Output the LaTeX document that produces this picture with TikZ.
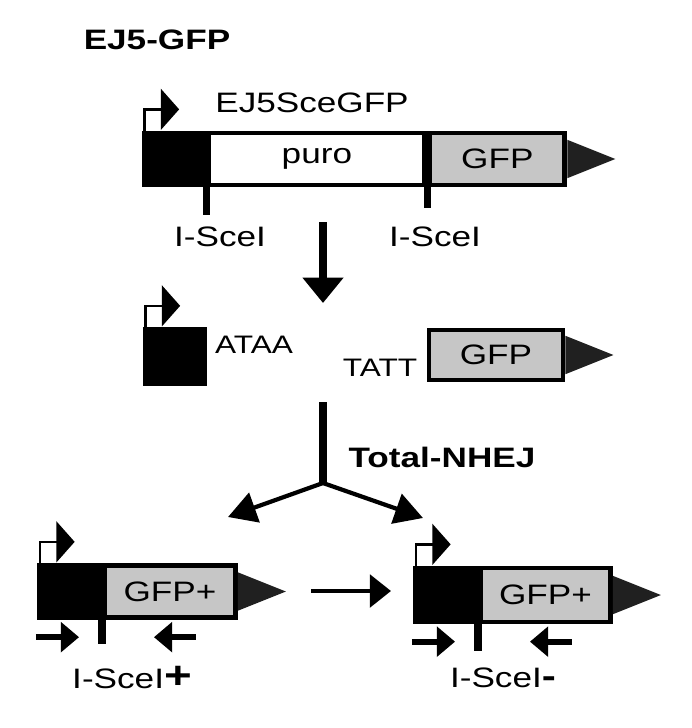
\documentclass[tikz,border=0pt]{standalone}
\usepackage{fontspec}
\setmainfont[FakeStretch=1.25]{Liberation Sans}
\usepackage{tikz}
\usepackage{xcolor}
\usetikzlibrary{arrows.meta, positioning, calc}
\definecolor{cGrey}{RGB}{198,198,198}
\definecolor{cDark}{RGB}{32,32,32}
\tikzset{
	exon/.style     ={rectangle, draw=black, fill=black, line width=3.5pt, inner sep=0pt, minimum width=1.5cm, minimum height=1.3cm},
	orf/.style      ={rectangle, draw=black, fill=cGrey, line width=3.5pt, inner sep=0pt, minimum height=1.3cm, align=center},
	tss/.style      ={line width=1.7pt, -{Triangle[length=13pt, width=29pt]}},
	cutsite/.style  ={line width=5.5pt},
	primer/.style   ={line width=4.3pt, -{Triangle[length=13pt, width=21pt]}},
	% process arrows
	bigarrow/.style ={line width=5.5pt, -{Triangle[length=18pt, width=28pt]}},
	stem/.style     ={line width=5pt},
	branch/.style   ={line width=3pt, -{Triangle[length=20pt, width=22pt]}},
	steparrow/.style={line width=3.2pt, -{Triangle[length=15pt, width=23pt]}},
}

\begin{document}
\begin{tikzpicture}[font=\fontsize{20}{24}\selectfont]
	\useasboundingbox (0,0) rectangle (17.3,-18.2);
	% reporter
	\node[font=\fontsize{20}{24}\selectfont\bfseries] (title) at (3.925,-1.0) {EJ5-GFP};
	\node (rep) at (7.8,-2.575) {EJ5SceGFP};
	\node[exon] (blk1) at (4.35,-3.975) {};
	\node[orf, fill=white, minimum width=5.4cm, right=0pt of blk1] (puro) {puro};
	\node[orf, minimum width=3.375cm, right=0pt of puro] (gfp1) {GFP};
	\draw[cutsite] (puro.south west) -- ++(0,-0.7);
	\draw[cutsite] (puro.south east) -- ++(0,-0.525);
	\node (sceA) at (5.5,-5.925) {I-SceI};
	\node (sceB) at (10.875,-5.925) {I-SceI};
	\coordinate (cut) at (8.075,-5.55);
	\coordinate (broken) at (8.075,-7.575);
	\draw[bigarrow] (cut) -- (broken);
	% cut ends
	\node[exon, minimum height=1.35cm] (blk2) at (4.375,-8.9125) {};
	\node[font=\fontsize{18}{22}\selectfont] (ataa) at (6.35,-8.625) {ATAA};
	\node[font=\fontsize{18}{22}\selectfont] (tatt) at (9.5,-9.2) {TATT};
	\node[orf, minimum width=3.35cm, minimum height=1.25cm] (gfp2) at (12.4,-8.875) {GFP};
	% repair
	\coordinate (top) at (8.075,-10.05);
	\coordinate (fork) at (8.075,-12.075);
	\coordinate (leftend) at (5.7,-12.925);
	\coordinate (rightend) at (10.575,-12.95);
	\draw[stem] (top) -- (fork);
	\draw[branch] (fork) -- (leftend);
	\draw[branch] (fork) -- (rightend);
	\node[font=\fontsize{20}{24}\selectfont\bfseries] (nhej) at (11.05,-11.425) {Total-NHEJ};
	% products
	\node[exon] (blk3) at (1.7375,-14.7875) {};
	\node[orf, minimum width=3.275cm, right=0pt of blk3] (gfp3) {GFP+};
	\node[exon, minimum height=1.35cm] (blk4) at (11.1375,-14.875) {};
	\node[orf, minimum width=3.25cm, minimum height=1.35cm, right=0pt of blk4] (gfp4) {GFP+};
	\draw[cutsite] (gfp3.south west) -- ++(0,-0.6);
	\draw[cutsite] (gfp4.south west) -- ++(0,-0.675);
	\node (plus) at (3.3,-16.925) {I-SceI{\fontsize{27}{27}\selectfont\bfseries +}};
	\node (minus) at (12.575,-16.95) {I-SceI{\fontsize{24}{24}\selectfont\bfseries -}};
	\coordinate (from) at (7.775,-14.775);
	\coordinate (to) at (9.775,-14.775);
	\draw[steparrow] (from) -- (to);
	% promoters, 3' ends, primers
	\foreach \b in {blk1,blk2,blk3,blk4}
		\draw[tss] ([xshift=0.07cm]\b.north west) -- ++(0,0.53) -- ++(0.87,0);
	\foreach \g in {gfp1,gfp2,gfp3,gfp4}
		\fill[cDark] ($(\g.east)+(0,0.48)$) -- ++(1.2,-0.48) -- ++(-1.2,-0.48) -- cycle;
	\foreach \b/\g in {blk3/gfp3,blk4/gfp4}{
		\draw[primer] ([shift={(-0.03,-0.43)}]\b.south west) -- ++(1.08,0);
		\draw[primer] ([shift={(2.35,-0.43)}]\g.south west) -- ++(-1.05,0);
	}
\end{tikzpicture}
\end{document}
